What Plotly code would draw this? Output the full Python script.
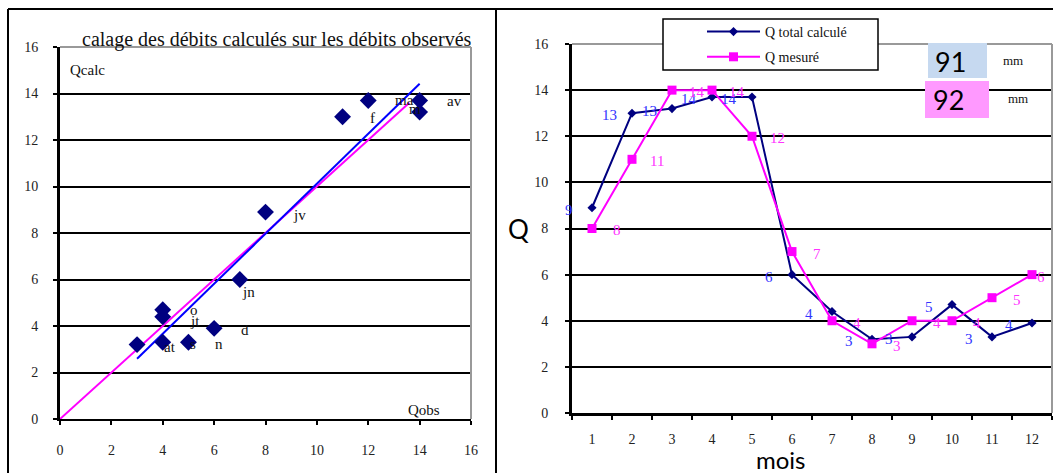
import numpy as np
import plotly.graph_objects as go

# ---------------- data ----------------
months = ["1", "2", "3", "4", "5", "6", "7", "8", "9", "10", "11", "12"]
month_abbr = ["jv", "f", "m", "av", "ma", "jn", "jt", "at", "s", "o", "n", "d"]
q_calc = [8.9, 13.0, 13.2, 13.7, 13.7, 6.0, 4.4, 3.2, 3.3, 4.7, 3.3, 3.9]
q_mes = [8, 11, 14, 14, 12, 7, 4, 3, 4, 4, 5, 6]
bisector = [0, 13.6]
total_calc_mm = "91"
total_mes_mm = "92"
axis_ticks = [0, 2, 4, 6, 8, 10, 12, 14, 16]

# ---------------- styling helpers ----------------
W, H = 1053, 473
SERIF = "Liberation Serif, Times New Roman, serif"
SANS = "Lato, Open Sans, sans-serif"


def px(x):
    return x / W


def py(y):
    return 1 - y / H


# label pixel offsets (style only)
scatter_label_dx = [25, 25, -13, 25, 25, 0, 25, 25, 25, 25, 25, 25]
scatter_label_dy = [-3, -1, 3, -1, 0, -12, -4, -2, -2, 0, -2, -2]
calc_label_dx = [-23] * 12
mes_label_dx = [25] * 11 + [9]

# regression line computed from the data
slope, intercept = np.polyfit(q_mes, q_calc, 1)
x_fit = np.array([min(q_mes), max(q_mes)], dtype=float)
y_fit = slope * x_fit + intercept

fig = go.Figure()

# ---------------- left chart ----------------
fig.add_trace(go.Scatter(x=bisector, y=bisector, mode="lines",
                         line=dict(color="#ff00ff", width=2),
                         showlegend=False, xaxis="x", yaxis="y", hoverinfo="skip"))
fig.add_trace(go.Scatter(x=x_fit, y=y_fit, mode="lines",
                         line=dict(color="#0000ff", width=2),
                         showlegend=False, xaxis="x", yaxis="y", hoverinfo="skip"))
fig.add_trace(go.Scatter(x=q_mes, y=q_calc, mode="markers",
                         marker=dict(symbol="diamond", size=13, color="#000080"),
                         showlegend=False, xaxis="x", yaxis="y"))

# ---------------- right chart ----------------
fig.add_trace(go.Scatter(x=months, y=q_calc, mode="lines+markers",
                         name="Q total calculé", legendgroup="a",
                         line=dict(color="#000080", width=2),
                         marker=dict(symbol="diamond", size=7, color="#000080"),
                         xaxis="x2", yaxis="y2"))
fig.add_trace(go.Scatter(x=months, y=q_mes, mode="lines+markers",
                         name="Q mesuré", legendgroup="b",
                         line=dict(color="#ff00ff", width=2),
                         marker=dict(symbol="square", size=9, color="#ff00ff"),
                         xaxis="x2", yaxis="y2"))

annotations = []
# scatter labels (left)
for xv, yv, t, dx, dy in zip(q_mes, q_calc, month_abbr, scatter_label_dx, scatter_label_dy):
    annotations.append(dict(x=xv, y=yv, xref="x", yref="y", text=t, showarrow=False,
                            xanchor="left", yanchor="middle", xshift=dx, yshift=dy,
                            font=dict(family=SERIF, size=15, color="#111")))
# data labels (right) -- category axis: position by category index
for i, (v, dx) in enumerate(zip(q_calc, calc_label_dx)):
    annotations.append(dict(x=i, y=v, xref="x2", yref="y2", text=str(int(round(v))),
                            showarrow=False, xanchor="center", yanchor="middle",
                            xshift=dx, yshift=-2,
                            font=dict(family=SERIF, size=15, color="#3333ff")))
for i, (v, dx) in enumerate(zip(q_mes, mes_label_dx)):
    annotations.append(dict(x=i, y=v, xref="x2", yref="y2", text=str(int(round(v))),
                            showarrow=False, xanchor="center", yanchor="middle",
                            xshift=dx, yshift=-2,
                            font=dict(family=SERIF, size=15, color="#ff33ff")))


def txt(x, y, text, family, size, color="#111", anchor="center"):
    return dict(x=px(x), y=py(y), xref="paper", yref="paper", showarrow=False,
                xanchor=anchor, yanchor="middle", text=text,
                font=dict(family=family, size=size, color=color))


annotations += [
    txt(277, 40, "calage des débits calculés sur les débits observés", SERIF, 20),
    txt(68, 70, "Qcalc", SERIF, 15, anchor="left"),
    txt(406, 410, "Qobs", SERIF, 15, anchor="left"),
    txt(518, 229, "Q", SANS, 26, "#000"),
    txt(781, 459, "mois", SANS, 24, "#000"),
    txt(950, 61, total_calc_mm, SANS, 27, "#000"),
    txt(948, 100, total_mes_mm, SANS, 27, "#000"),
    txt(1013, 60, "mm", SERIF, 13),
    txt(1018, 98, "mm", SERIF, 13),
]

shapes = [
    # plot area borders (gray top/right)
    dict(type="line", xref="x domain", yref="y domain", x0=0, x1=1, y0=1, y1=1,
         line=dict(color="#999999", width=2), layer="above"),
    dict(type="line", xref="x domain", yref="y domain", x0=1, x1=1, y0=0, y1=1,
         line=dict(color="#999999", width=2), layer="above"),
    dict(type="line", xref="x2 domain", yref="y2 domain", x0=0, x1=1, y0=1, y1=1,
         line=dict(color="#999999", width=2), layer="above"),
    dict(type="line", xref="x2 domain", yref="y2 domain", x0=1, x1=1, y0=0, y1=1,
         line=dict(color="#999999", width=2), layer="above"),
    # outer frames
    dict(type="line", xref="paper", yref="paper", x0=px(8), x1=px(8), y0=py(9), y1=-0.02,
         line=dict(color="#000", width=2)),
    dict(type="line", xref="paper", yref="paper", x0=px(496), x1=px(496), y0=py(9), y1=-0.02,
         line=dict(color="#000", width=2)),
    dict(type="line", xref="paper", yref="paper", x0=px(8), x1=1.01, y0=py(9), y1=py(9),
         line=dict(color="#000", width=2)),
    # legend box
    dict(type="rect", xref="paper", yref="paper", x0=px(663), x1=px(878), y0=py(70), y1=py(19),
         fillcolor="white", line=dict(color="#000", width=1.5), layer="above"),
    # total boxes
    dict(type="rect", xref="paper", yref="paper", x0=px(928), x1=px(987), y0=py(78), y1=py(43),
         fillcolor="#c6d9f0", line=dict(width=0), layer="above"),
    dict(type="rect", xref="paper", yref="paper", x0=px(925), x1=px(989), y0=py(118), y1=py(81),
         fillcolor="#ff99ff", line=dict(width=0), layer="above"),
]

tickfont = dict(family=SERIF, size=14, color="#222")

fig.update_layout(
    width=W, height=H, autosize=False, margin=dict(l=0, r=0, t=0, b=0, pad=0),
    paper_bgcolor="white", plot_bgcolor="white",
    xaxis=dict(domain=[px(60), px(471)], range=[0, 16], tickvals=axis_ticks,
               showgrid=False, zeroline=False, showline=True, linecolor="#000", linewidth=2,
               ticks="outside", ticklen=4, tickwidth=2, tickcolor="#000", automargin=False,
               tickfont=tickfont, ticklabelstandoff=13, anchor="y", fixedrange=True),
    yaxis=dict(domain=[py(419), py(47)], range=[0, 16], tickvals=axis_ticks,
               showgrid=True, gridcolor="#000", gridwidth=2, zeroline=False,
               showline=True, linecolor="#000", linewidth=3, automargin=False,
               ticks="outside", ticklen=4, tickwidth=2, tickcolor="#000",
               tickfont=tickfont, ticklabelstandoff=12, anchor="x", fixedrange=True),
    xaxis2=dict(domain=[px(572), px(1052)], type="category", categoryorder="array",
                categoryarray=months, range=[-0.5, 11.5], tickson="boundaries",
                showgrid=False, zeroline=False, showline=True, linecolor="#000", linewidth=3,
                ticks="outside", ticklen=4, tickwidth=2, tickcolor="#000", automargin=False,
                tickfont=tickfont, ticklabelstandoff=11, anchor="y2", fixedrange=True),
    yaxis2=dict(domain=[py(413), py(44)], range=[0, 16], tickvals=axis_ticks,
                showgrid=True, gridcolor="#000", gridwidth=2, zeroline=False,
                showline=True, linecolor="#000", linewidth=3, automargin=False,
                ticks="outside", ticklen=4, tickwidth=2, tickcolor="#000",
                tickfont=tickfont, ticklabelstandoff=14, anchor="x2", fixedrange=True),
    legend=dict(x=px(702), y=py(16), xanchor="left", yanchor="top",
                bgcolor="rgba(0,0,0,0)", borderwidth=0, itemwidth=53,
                font=dict(family=SERIF, size=14, color="#111"),
                traceorder="grouped", tracegroupgap=4),
    annotations=annotations,
    shapes=shapes,
)

fig.write_html("out.html", config={"displayModeBar": False},
               post_script="document.body.style.margin='0px';document.body.style.padding='0px';")
